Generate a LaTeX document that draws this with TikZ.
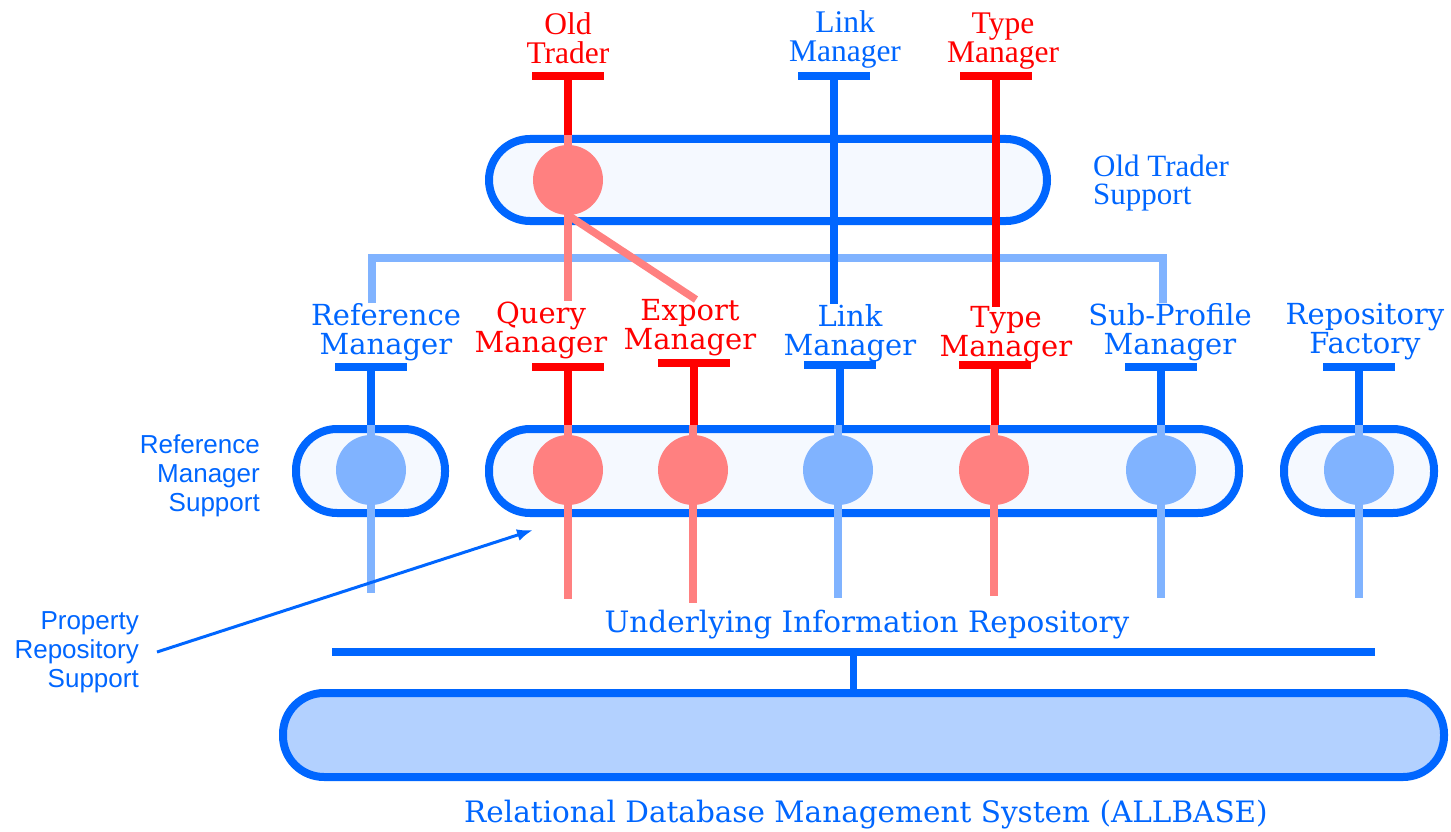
\documentclass[tikz,border=0pt]{standalone}
\usepackage{fontspec}
\usetikzlibrary{arrows.meta}
\newfontfamily\timesfont{Liberation Serif}
\newfontfamily\charfont{DejaVu Serif}
\newfontfamily\arialfont{Liberation Sans}
\definecolor{ifblue}{HTML}{0066FF}
\definecolor{iflight}{HTML}{80B3FF}
\definecolor{ifred}{HTML}{FF0000}
\definecolor{ifpink}{HTML}{FF8080}
\definecolor{ifpale}{HTML}{F5F9FF}
\definecolor{ifdb}{HTML}{B3D1FF}
\begin{document}
\begin{tikzpicture}[x=1pt, y=-1pt,
  support/.style={draw=ifblue, line width=8pt, fill=ifpale, rounded corners=41pt, minimum height=84pt, inner sep=0pt},
  comp/.style={circle, fill=#1, minimum size=70pt, inner sep=0pt},
  tbar/.style={fill=#1, minimum width=72pt, minimum height=8pt, inner sep=0pt},
  wire/.style={line width=7.5pt, #1},
  toplabel/.style={text=#1, font=\timesfont\fontsize{31.5}{29}\selectfont, align=center, inner sep=0pt},
  midlabel/.style={text=#1, font=\charfont\fontsize{29}{29}\selectfont, align=center, inner sep=0pt},
  sidelabel/.style={text=ifblue, font=\arialfont\fontsize{26}{29}\selectfont, inner sep=0pt}]
\useasboundingbox (0,0) rectangle (1451,832);
\node[toplabel=ifred] (lOld) at (568,38) {Old\\Trader};
\node[toplabel=ifblue] (lLinkTop) at (845,39) {Link\\Manager};
\node[toplabel=ifred] (lTypeTop) at (1003,41) {Type\\Manager};
\node[midlabel=ifblue] (lRef) at (386,332) {Reference\\Manager};
\node[midlabel=ifred] (lQuery) at (541,330) {Query\\Manager};
\node[midlabel=ifred] (lExport) at (690,328) {Export\\Manager};
\node[midlabel=ifblue] (lLink) at (850,333) {Link\\Manager};
\node[midlabel=ifred] (lType) at (1006,335) {Type\\Manager};
\node[midlabel=ifblue] (lSub) at (1170,332) {Sub-Profile\\Manager};
\node[midlabel=ifblue] (lRepo) at (1365,332) {Repository\\Factory};
\node[toplabel=ifblue, font=\timesfont\fontsize{31}{28}\selectfont, anchor=west, align=left] (lOts) at (1093,183) {Old Trader\\Support};
\node[sidelabel, anchor=east, align=right] (lRms) at (260,476) {Reference\\Manager\\Support};
\node[sidelabel, anchor=east, align=right] (lPrs) at (139,652) {Property\\Repository\\Support};
\node[midlabel=ifblue, font=\charfont\fontsize{29.5}{29}\selectfont] (lUir) at (867,625) {Underlying Information Repository};
\node[midlabel=ifblue, font=\charfont\fontsize{29.5}{29}\selectfont] (lRdb) at (866,815) {Relational Database Management System (ALLBASE)};
\coordinate (bL) at (372,258);
\coordinate (bR) at (1163,258);
\draw[wire=iflight] (bL |- lRef.north) -- (bL) -- (bR) -- (bR |- lSub.north);
\node[support, minimum width=558pt, minimum height=82pt] (ots) at (768,180) {};
\node[support, minimum width=149pt] (rms) at (370.5,471) {};
\node[support, minimum width=750pt] (prs) at (864,471) {};
\node[support, minimum width=150pt] (rfs) at (1359,471) {};
\node[support, minimum width=1161pt, fill=ifdb] (rdb) at (863.5,735) {};
\node[comp=ifpink] (cOld) at (568,180) {};
\node[comp=iflight] (cRef) at (371,470) {};
\node[comp=ifpink] (cQuery) at (568,470) {};
\node[comp=ifpink] (cExport) at (693,470) {};
\node[comp=iflight] (cLink) at (838,470) {};
\node[comp=ifpink] (cType) at (994,470) {};
\node[comp=iflight] (cSub) at (1161,470) {};
\node[comp=iflight] (cRepo) at (1359,470) {};
\coordinate (eRef) at (371,593);
\coordinate (eQuery) at (568,599);
\coordinate (eExport) at (693,603);
\coordinate (eLink) at (838,598);
\coordinate (eType) at (994,596);
\coordinate (eSub) at (1161,598);
\coordinate (eRepo) at (1359,598);
\draw[wire=ifpink] (cOld |- ots.north) -- (cOld |- lQuery.north);
\draw[wire=ifpink] (cOld.south) -- ([xshift=6pt]lExport.north);
\draw[wire=iflight] (cRef |- rms.north) -- (eRef);
\draw[wire=ifpink] (cQuery |- prs.north) -- (eQuery);
\draw[wire=ifpink] (cExport |- prs.north) -- (eExport);
\draw[wire=iflight] (cLink |- prs.north) -- (eLink);
\draw[wire=ifpink] (cType |- prs.north) -- (eType);
\draw[wire=iflight] (cSub |- prs.north) -- (eSub);
\draw[wire=iflight] (cRepo |- rfs.north) -- (eRepo);
\node[tbar=ifred] (tOld) at (568,76) {};
\node[tbar=ifblue] (tLinkTop) at (834,76) {};
\node[tbar=ifred] (tTypeTop) at (996,76) {};
\node[tbar=ifblue] (tRef) at (371,367) {};
\node[tbar=ifred] (tQuery) at (568,367) {};
\node[tbar=ifred] (tExport) at (694,363) {};
\node[tbar=ifblue] (tLink) at (840,365) {};
\node[tbar=ifred] (tType) at (995,365) {};
\node[tbar=ifblue] (tSub) at (1161,367) {};
\node[tbar=ifblue] (tRepo) at (1359,367) {};
\node[fill=ifblue, minimum width=1043pt, minimum height=8pt, inner sep=0pt] (tUir) at (853.5,652) {};
\draw[wire=ifred] (tOld) -- (tOld |- ots.north);
\draw[wire=ifblue] (tLinkTop) -- (tLinkTop |- lLink.north);
\draw[wire=ifred] (tTypeTop) -- (tTypeTop |- lType.north);
\draw[wire=ifblue] (tRef) -- (tRef |- rms.north);
\draw[wire=ifred] (tQuery) -- (tQuery |- prs.north);
\draw[wire=ifred] (tExport) -- (tExport |- prs.north);
\draw[wire=ifblue] (tLink) -- (tLink |- prs.north);
\draw[wire=ifred] (tType) -- (tType |- prs.north);
\draw[wire=ifblue] (tSub) -- (tSub |- prs.north);
\draw[wire=ifblue] (tRepo) -- (tRepo |- rfs.north);
\draw[wire=ifblue] (tUir) -- (tUir |- rdb.north);
\coordinate (aTip) at (533,530);
\draw[ifblue, line width=3pt, -{Latex[length=16pt,width=12pt]}] ([xshift=18pt]lPrs.east) -- (aTip);
\end{tikzpicture}
\end{document}
